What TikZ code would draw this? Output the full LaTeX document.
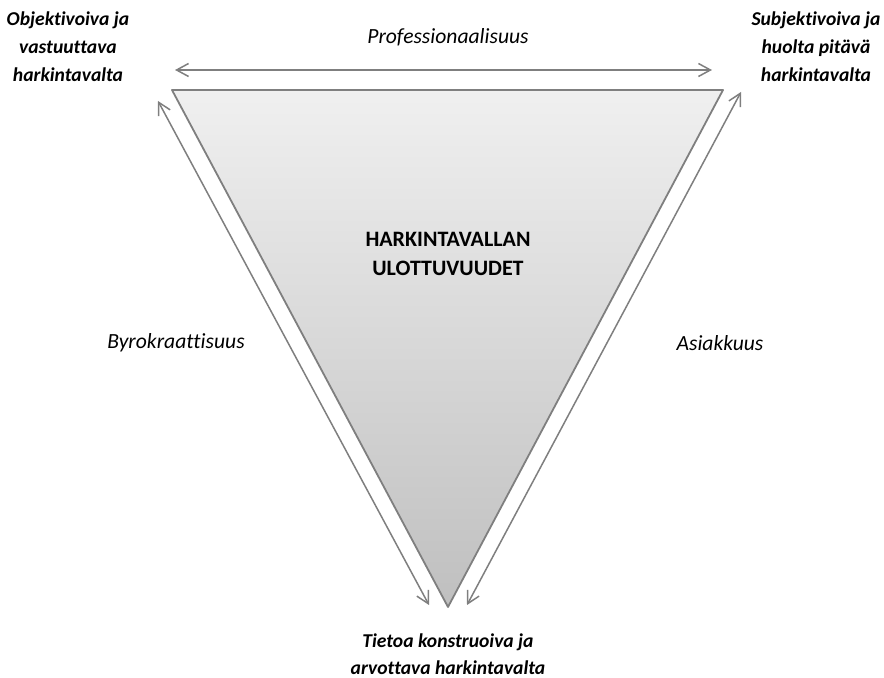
\documentclass[tikz,border=0pt]{standalone}
\usepackage{fontspec}
\setmainfont{Carlito}[Ligatures=NoCommon]
\usetikzlibrary{arrows.meta, positioning}
\definecolor{linegray}{HTML}{7F7F7F}
\tikzset{
	dimarrow/.style={draw=linegray, line width=0.75pt, {Straight Barb[length=6pt,width=6.5pt]}-{Straight Barb[length=6pt,width=6.5pt]}},
	cornerlabel/.style={font=\fontsize{9.8}{14}\selectfont\bfseries\itshape, align=center},
	axislabel/.style={font=\fontsize{10.8}{14}\selectfont\itshape}
}

\begin{document}
\begin{tikzpicture}[x=0.5pt,y=-0.5pt]
		\useasboundingbox (0,0) rectangle (884,678);

		% triangle corners
		\coordinate (tl) at (172,90);
		\coordinate (tr) at (723,90);
		\coordinate (bt) at (448,607);

		\path[top color=gray!12, bottom color=gray!50] (tl) -- (tr) -- (bt) -- cycle;
		\draw[linegray, line width=0.9pt, line join=round] (tl) -- (tr) -- (bt) -- cycle;

		\node[font=\fontsize{11}{14.5}\selectfont\bfseries, align=center] (title) at (448,254) {HARKINTAVALLAN\\ULOTTUVUUDET};

		% arrow ends
		\coordinate (a1) at (175,70);
		\coordinate (a2) at (712,70);
		\coordinate (b1) at (158,101);
		\coordinate (b2) at (429,605);
		\coordinate (c1) at (741,92);
		\coordinate (c2) at (467,605);

		\draw[dimarrow] (a1) to (a2);
		\draw[dimarrow] (b1) to (b2);
		\draw[dimarrow] (c1) to (c2);

		\node[axislabel] (prof) at (448,37) {Professionaalisuus};
		\node[axislabel] (byro) at (176,343) {Byrokraattisuus};
		\node[axislabel] (asia) at (720,343) {Asiakkuus};

		\node[cornerlabel] (obj) at (68,47) {Objektivoiva ja\\vastuuttava\\harkintavalta};
		\node[cornerlabel] (subj) at (816,47) {Subjektivoiva ja\\huolta pitävä\\harkintavalta};
		\node[cornerlabel, font=\fontsize{9.8}{13.3}\selectfont\bfseries\itshape] (tiet) at (448,654) {Tietoa konstruoiva ja\\arvottava harkintavalta};

	\end{tikzpicture}
\end{document}
